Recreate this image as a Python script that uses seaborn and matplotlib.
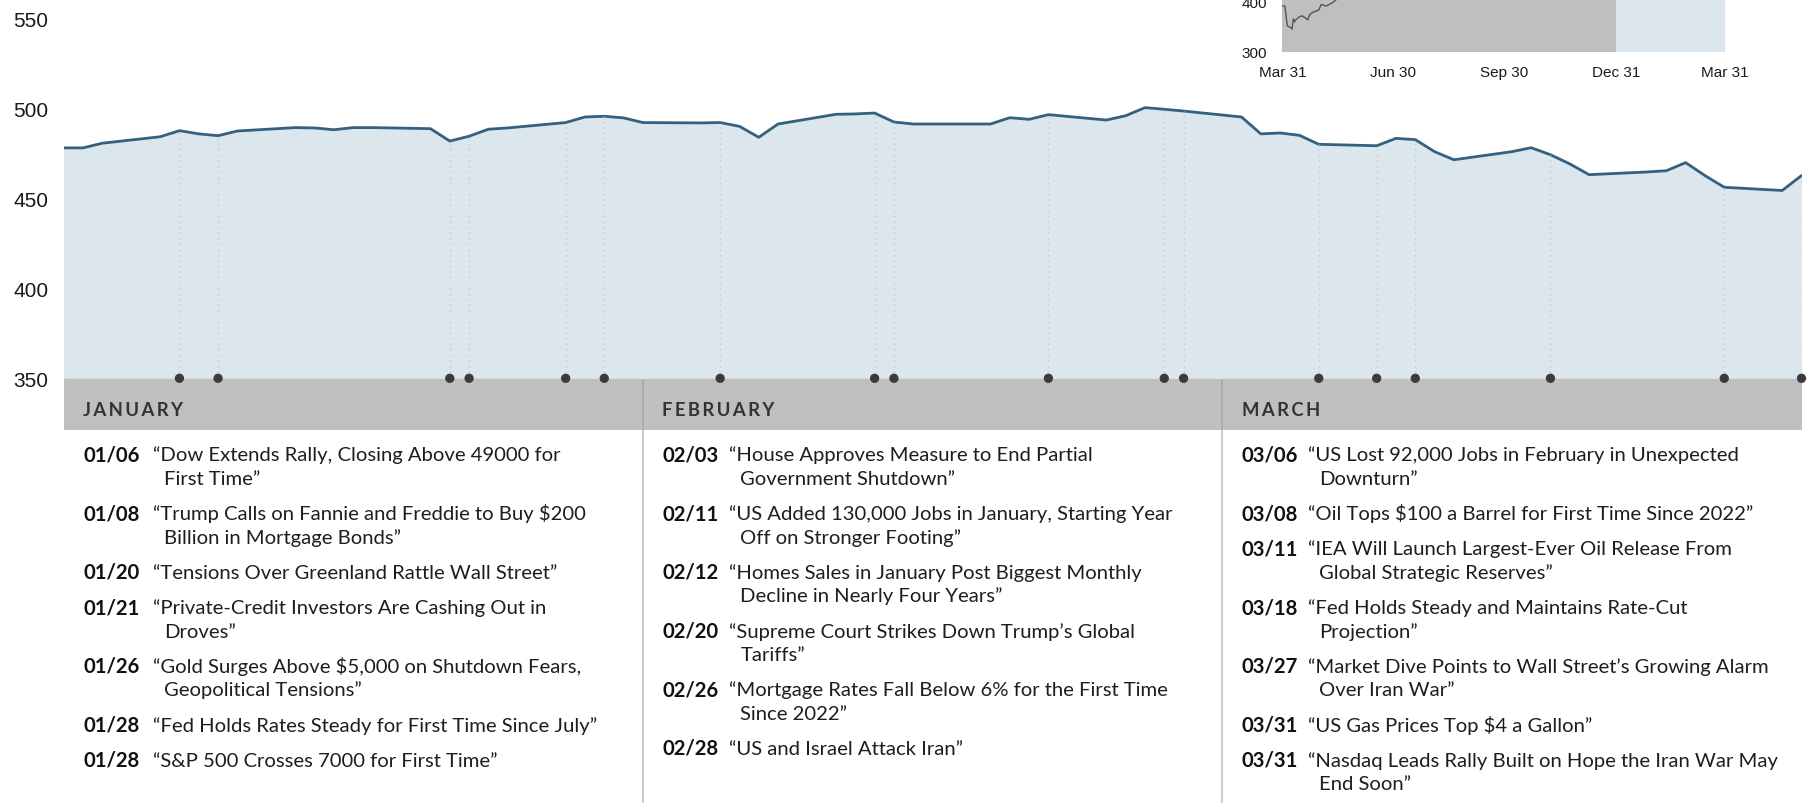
"""
Índice diario (dic-2025 a mar-2026) con titulares por mes debajo
y un recuadro con el último año arriba a la derecha.
"""
import matplotlib
matplotlib.use('Agg')
import matplotlib.pyplot as plt
from matplotlib.patches import Rectangle
import pandas as pd
import seaborn as sns

# ── Datos: serie principal (días hábiles, 31-dic-2025 .. 31-mar-2026) ──
dias = pd.bdate_range('2025-12-31', '2026-03-31')
valores = [
    478.2, 478.2, 480.8,
    484.4, 487.8, 486.0, 485.0, 487.6,
    489.5, 489.3, 488.3, 489.5, 489.5,
    488.9, 482.0, 484.7, 488.6, 489.3,
    492.3, 495.4, 495.8, 494.9, 492.3,
    492.1, 492.3, 490.2, 484.1, 491.5,
    496.9, 497.1, 497.6, 492.6, 491.5,
    491.5, 491.5, 495.0, 494.1, 496.7,
    493.7, 496.1, 500.6, 499.7, 498.7,
    495.4, 486.0, 486.5, 485.2, 480.2,
    479.4, 483.5, 482.8, 476.1, 471.6,
    476.1, 478.3, 474.4, 469.3, 463.3,
    464.8, 465.5, 470.0, 462.8, 456.3,
    454.5, 462.8,
]

# puntos de eventos sobre el eje (día hábil donde se marca)
fechas_puntos = pd.to_datetime([
    '2026-01-06', '2026-01-08', '2026-01-20', '2026-01-21', '2026-01-26', '2026-01-28',
    '2026-02-03', '2026-02-11', '2026-02-12', '2026-02-20', '2026-02-26', '2026-02-27',
    '2026-03-06', '2026-03-09', '2026-03-11', '2026-03-18', '2026-03-27', '2026-03-31',
])

# ── Recuadro: último año (solo el tramo abr-may se ve; el resto queda arriba) ──
inset_fechas = pd.to_datetime([
    '2025-03-31', '2025-04-02', '2025-04-03', '2025-04-04', '2025-04-07', '2025-04-08',
    '2025-04-09', '2025-04-10', '2025-04-11', '2025-04-14', '2025-04-16', '2025-04-17',
    '2025-04-21', '2025-04-22', '2025-04-24', '2025-04-28', '2025-04-30', '2025-05-02',
    '2025-05-06', '2025-05-08', '2025-05-12', '2025-05-16', '2025-06-30', '2025-08-29',
    '2025-10-31',
])
inset_valores = [
    392, 392, 372, 352, 348, 345,
    366, 360, 364, 370, 372, 371,
    364, 372, 378, 382, 384, 395,
    392, 394, 400, 408, 430, 450,
    470,
]
inset_ticks = pd.to_datetime(['2025-03-31', '2025-06-30', '2025-09-30', '2025-12-31', '2026-03-31'])
inset_ticklabels = ['Mar 31', 'Jun 30', 'Sep 30', 'Dec 31', 'Mar 31']

# ── Titulares ──
meses = ['JANUARY', 'FEBRUARY', 'MARCH']
jan_fechas = ['01/06', '01/08', '01/20', '01/21', '01/26', '01/28', '01/28']
jan_titulares = [
    '“Dow Extends Rally, Closing Above 49000 for\nFirst Time”',
    '“Trump Calls on Fannie and Freddie to Buy $200\nBillion in Mortgage Bonds”',
    '“Tensions Over Greenland Rattle Wall Street”',
    '“Private-Credit Investors Are Cashing Out in\nDroves”',
    '“Gold Surges Above $5,000 on Shutdown Fears,\nGeopolitical Tensions”',
    '“Fed Holds Rates Steady for First Time Since July”',
    '“S&P 500 Crosses 7000 for First Time”',
]
feb_fechas = ['02/03', '02/11', '02/12', '02/20', '02/26', '02/28']
feb_titulares = [
    '“House Approves Measure to End Partial\nGovernment Shutdown”',
    '“US Added 130,000 Jobs in January, Starting Year\nOff on Stronger Footing”',
    '“Homes Sales in January Post Biggest Monthly\nDecline in Nearly Four Years”',
    '“Supreme Court Strikes Down Trump’s Global\nTariffs”',
    '“Mortgage Rates Fall Below 6% for the First Time\nSince 2022”',
    '“US and Israel Attack Iran”',
]
mar_fechas = ['03/06', '03/08', '03/11', '03/18', '03/27', '03/31', '03/31']
mar_titulares = [
    '“US Lost 92,000 Jobs in February in Unexpected\nDownturn”',
    '“Oil Tops $100 a Barrel for First Time Since 2022”',
    '“IEA Will Launch Largest-Ever Oil Release From\nGlobal Strategic Reserves”',
    '“Fed Holds Steady and Maintains Rate-Cut\nProjection”',
    '“Market Dive Points to Wall Street’s Growing Alarm\nOver Iran War”',
    '“US Gas Prices Top $4 a Gallon”',
    '“Nasdaq Leads Rally Built on Hope the Iran War May\nEnd Soon”',
]

AZUL_FONDO = '#dce6ed'
AZUL_LINEA = '#34617f'
GRIS = '#bfbfbf'

sns.set_style('white')
plt.rcParams['font.family'] = ['Liberation Sans', 'DejaVu Sans']

W, H = 1813, 804
fig = plt.figure(figsize=(W / 100, H / 100), dpi=100)

# ── Capa de texto (coordenadas en píxeles) ────────────────────────
ax_t = fig.add_axes([0, 0, 1, 1])
ax_t.set_xlim(0, W)
ax_t.set_ylim(H, 0)
ax_t.axis('off')
ax_t.set_zorder(0)

x0, x1 = 63.6, 1801.5
y_base, y_head = 379.3, 431.3
ax_t.add_patch(Rectangle((x0, y_base), x1 - x0, y_head - y_base, color=GRIS, lw=0))
col_w = (x1 - x0) / 3
for k in (1, 2):
    xd = x0 + k * col_w
    ax_t.plot([xd, xd], [y_base + 2, y_head], color='#a9a9a9', lw=1.2)
    ax_t.plot([xd, xd], [y_head, H], color='#c4c4c4', lw=1.2)

columnas = [(jan_fechas, jan_titulares, 70.0),
            (feb_fechas, feb_titulares, 67.0),
            (mar_fechas, mar_titulares, 66.0)]
LH, GAP = 23.4, 11.9
for k, (fechas, titulares, off) in enumerate(columnas):
    xc = x0 + k * col_w + 19.5
    ax_t.text(xc, 416.5, '\u2009'.join(meses[k]), family=['Lato', 'DejaVu Sans'],
              fontsize=13.3, fontweight='bold', color='#333333', va='baseline')
    y = 454.0
    for f, t in zip(fechas, titulares):
        ax_t.text(xc, y + 7.5, f, family='Lato', fontsize=14.6, fontweight='bold',
                  color='#111111', va='baseline')
        for j, linea in enumerate(t.split('\n')):
            ax_t.text(xc + off + (11 if j else 0), y + 7.5, linea, family='Lato',
                      fontsize=14.6, color='#1e1e1e', va='baseline', parse_math=False)
            y += LH
        y += GAP

# ── Gráfico principal ─────────────────────────────────────────────
ax = fig.add_axes([x0 / W, (H - y_base) / H, (x1 - x0) / W, 449.3 / H])
ax.set_zorder(2)
ax.patch.set_alpha(0)
serie = pd.Series(valores, index=dias)
ax.fill_between(dias, valores, 350, color=AZUL_FONDO, lw=0)
sns.lineplot(x=dias, y=valores, color=AZUL_LINEA, lw=2.0, ax=ax)
ax.vlines(fechas_puntos, 350, serie.loc[fechas_puntos].values, color='#c9c9c9',
          lw=1.0, linestyles=(0, (1, 3)))
sns.scatterplot(x=fechas_puntos, y=[350] * len(fechas_puntos), s=45, color='#3b3b3b',
                edgecolor='none', ax=ax, clip_on=False, zorder=5)
ax.set_xlim(dias[0], dias[-1])
ax.set_ylim(350, 600)
ax.set_yticks([350, 400, 450, 500, 550])
ax.set_xticks([])
ax.tick_params(axis='y', length=0, pad=11, labelsize=15, labelcolor='#1a1a1a')
ax.set_xlabel('')
ax.set_ylabel('')
sns.despine(ax=ax, left=True, bottom=True)

# ── Recuadro (último año) ─────────────────────────────────────────
ix0, ix1 = 1282.4, 1725.0
iy300 = 52.5
ax_in = fig.add_axes([ix0 / W, (H - iy300) / H, (ix1 - ix0) / W, 300 * 0.495 / H])
ax_in.set_zorder(3)
ax_in.axvspan(inset_ticks[0], inset_ticks[3], color=GRIS, lw=0)
ax_in.axvspan(inset_ticks[3], inset_ticks[4], color=AZUL_FONDO, lw=0)
ax_in.axvline(inset_ticks[4], color='#c3d0da', lw=1)
in_x = list(inset_fechas) + list(dias)
in_y = inset_valores + valores
sns.lineplot(x=in_x, y=in_y, color='#555555', lw=1.0, ax=ax_in)
ax_in.set_xlim(inset_ticks[0], inset_ticks[4])
ax_in.set_ylim(300, 600)
ax_in.set_yticks([300, 400])
ax_in.set_xticks(inset_ticks)
ax_in.set_xticklabels(inset_ticklabels)
ax_in.tick_params(length=0, labelsize=11, labelcolor='#1a1a1a')
ax_in.tick_params(axis='y', pad=11)
ax_in.tick_params(axis='x', pad=10)
ax_in.set_xlabel('')
ax_in.set_ylabel('')
sns.despine(ax=ax_in, left=True, bottom=True)

fig.savefig('out.png', dpi=100)
